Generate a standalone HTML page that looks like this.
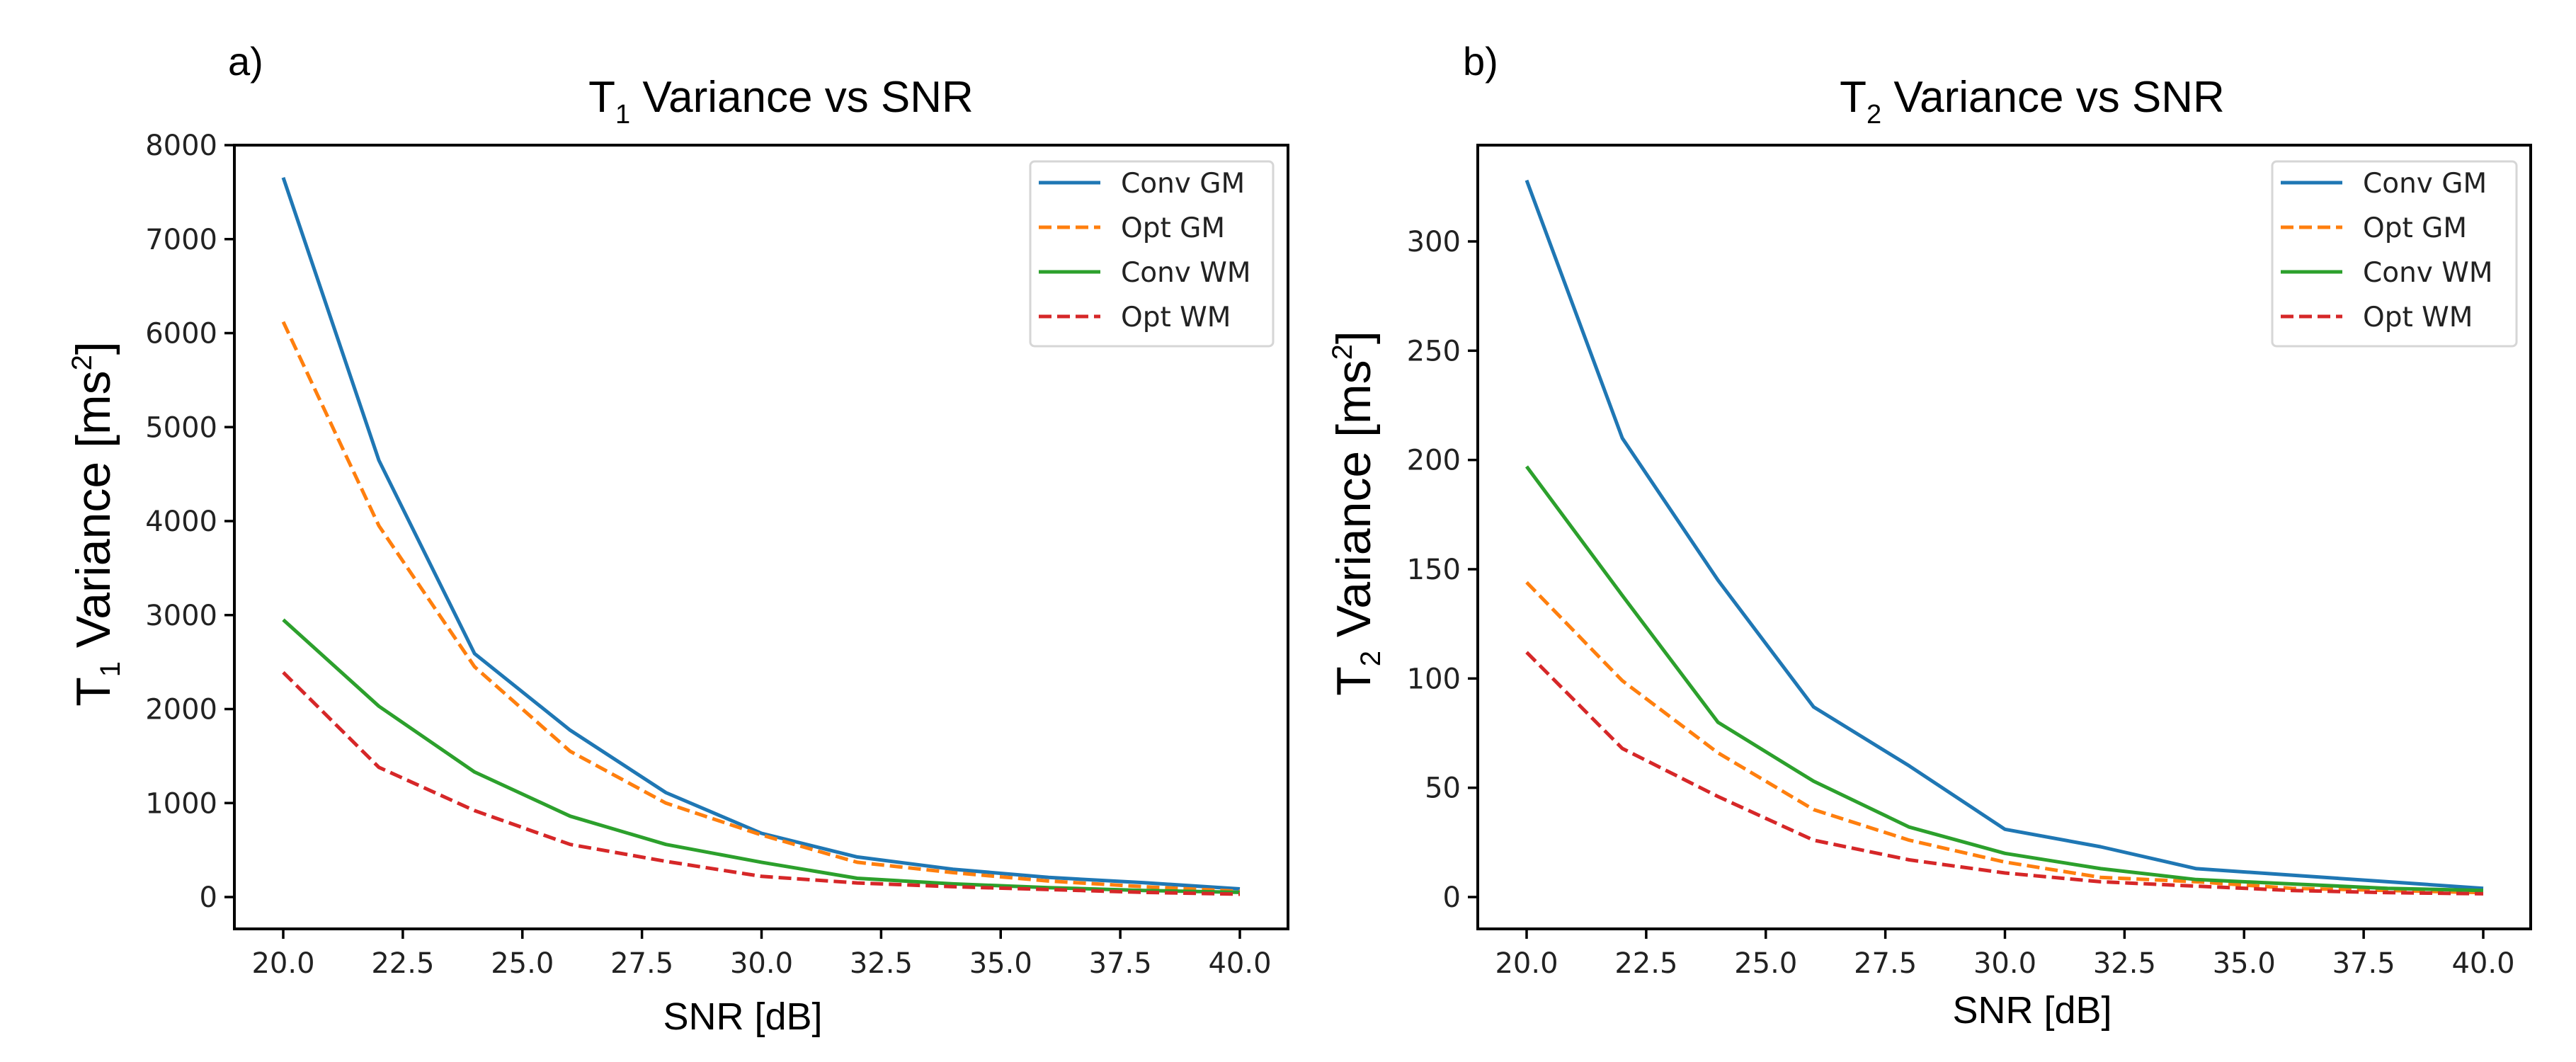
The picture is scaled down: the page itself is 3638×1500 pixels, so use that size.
<!DOCTYPE html>
<html><head><meta charset="utf-8">
<style>
html,body{margin:0;padding:0;background:#fff;}
svg{display:block;font-family:"Liberation Sans",sans-serif;}
</style></head>
<body>
<svg id="fig" width="3638" height="1500" viewBox="0 0 3638 1500" xmlns="http://www.w3.org/2000/svg">
<rect width="3638" height="1500" fill="#fff"/>
</svg>
<script>
const xValues = [20,22,24,26,28,30,32,34,36,38,40];
const xTicks = [20,22.5,25,27.5,30,32.5,35,37.5,40];
const seriesNames = ["Conv GM","Opt GM","Conv WM","Opt WM"];
const seriesColors = ["#1f77b4","#ff7f0e","#2ca02c","#d62728"];
const seriesDashed = [false,true,false,true];
const t1ConvGM = [7655,4646,2590,1775,1111,678,426,296,209,152,87];
const t1OptGM  = [6120,3950,2450,1550,1000,660,370,260,170,110,60];
const t1ConvWM = [2950,2030,1330,860,560,370,200,140,100,70,50];
const t1OptWM  = [2390,1380,920,560,380,220,150,110,80,50,30];
const t2ConvGM = [328,210,145,87,60,31,23,13,10,7,4];
const t2OptGM  = [144,99,66,40,26,16,9,7,4,3,2];
const t2ConvWM = [197,138,80,53,32,20,13,8,6,4,3];
const t2OptWM  = [112,68,46,26,17,11,7,5,3,2,1.5];
const t1Ticks = [0,1000,2000,3000,4000,5000,6000,7000,8000];
const t2Ticks = [0,50,100,150,200,250,300];

const NS="http://www.w3.org/2000/svg";
const svg=document.getElementById('fig');
const TF='"DejaVu Sans", sans-serif';
function mk(tag,attrs,parent){const e=document.createElementNS(NS,tag);for(const k in attrs)e.setAttribute(k,attrs[k]);(parent||svg).appendChild(e);return e;}

function panel(cfg){
  const g=mk('g',{});
  
  
  const {L,R,T,B,x0px,x1px,y0px,yPer}=cfg;
  const X=v=>x0px+(v-20)/20*(x1px-x0px);
  const Y=v=>y0px-v*yPer;
  cfg.yTicks.forEach(t=>{
    const y=Y(t); if(y<T-1) return;
    const ln=mk('line',{x1:L-14,x2:L,y1:y,y2:y,stroke:'#000','stroke-width':3.5},g);
    
    
    const tx=mk('text',{x:L-24,y:y+14,'text-anchor':'end','font-size':40,fill:'#222','font-family':TF},g);
    
    
    tx.textContent=String(t);
  });
  xTicks.forEach(t=>{
    const x=X(t);
    const ln=mk('line',{x1:x,x2:x,y1:B,y2:B+14,stroke:'#000','stroke-width':3.5},g);
    
    
    const tx=mk('text',{x:x,y:B+62,'text-anchor':'middle','font-size':40,fill:'#222','font-family':TF},g);
    
    
    tx.textContent=t.toFixed(1);
  });
  const clip='clip'+cfg.name;
  const cp=mk('clipPath',{id:clip},g);mk('rect',{x:L,y:T,width:R-L,height:B-T},cp);
  cfg.series.forEach((arr,i)=>{
    const d=arr.map((v,j)=>(j?'L':'M')+X(xValues[j]).toFixed(1)+','+Y(v).toFixed(1)).join(' ');
    const p=mk('path',{d:d,fill:'none',stroke:seriesColors[i],'stroke-width':5,'stroke-linejoin':'round','clip-path':'url(#'+clip+')'},g);
    if(seriesDashed[i]) p.setAttribute('stroke-dasharray','18,8');
    
    
  });
  const fr=mk('rect',{x:L,y:T,width:R-L,height:B-T,fill:'none',stroke:'#000','stroke-width':4},g);
  
  
  const lg=mk('g',{},g);
  
  
  mk('rect',{x:cfg.legX,y:228,width:cfg.legW,height:261,rx:6,fill:'#fff',stroke:'#d6d6d6','stroke-width':3},lg);
  seriesNames.forEach((n,i)=>{
    const y=258+i*63;
    const en=mk('g',{},lg);
    
    
    const l=mk('line',{x1:cfg.legX+12,x2:cfg.legX+99,y1:y,y2:y,stroke:seriesColors[i],'stroke-width':5},en);
    if(seriesDashed[i]) l.setAttribute('stroke-dasharray','18,8');
    const t=mk('text',{x:cfg.legX+128,y:y+14,'font-size':39,fill:'#222','font-family':TF},en);
    t.textContent=n;
  });
}

panel({name:'t1-panel',L:331,R:1819,T:205,B:1312,x0px:400,x1px:1751,y0px:1267,yPer:(1267-205)/8000,yTicks:t1Ticks,
  series:[t1ConvGM,t1OptGM,t1ConvWM,t1OptWM],legX:1455,legW:343});
panel({name:'t2-panel',L:2087,R:3574,T:205,B:1312,x0px:2156,x1px:3507,y0px:1267,yPer:(1267-341)/300,yTicks:t2Ticks,
  series:[t2ConvGM,t2OptGM,t2ConvWM,t2OptWM],legX:3209,legW:345});
</script>
<svg style="position:absolute;left:0;top:0" width="3638" height="1500" xmlns="http://www.w3.org/2000/svg" font-family="Liberation Sans, sans-serif">
<text x="322" y="106" font-size="56" fill="#000">a)</text>
<text x="2066" y="106" font-size="56" fill="#000">b)</text>
<text x="1103" y="158" text-anchor="middle" font-size="62" fill="#000">T<tspan font-size="38" dy="16">1</tspan><tspan dy="-16"> Variance vs SNR</tspan></text>
<text x="2870" y="158" text-anchor="middle" font-size="62" fill="#000">T<tspan font-size="38" dy="16">2</tspan><tspan dy="-16"> Variance vs SNR</tspan></text>
<text transform="translate(155,740) rotate(-90)" text-anchor="middle" font-size="68" fill="#000">T<tspan font-size="40" dy="14">1</tspan><tspan dy="-14"> Variance [ms</tspan><tspan font-size="40" dy="-26">2</tspan><tspan dy="26">]</tspan></text>
<text transform="translate(1935,725) rotate(-90)" text-anchor="middle" font-size="68" fill="#000">T<tspan font-size="40" dy="14">2</tspan><tspan dy="-14"> Variance [ms</tspan><tspan font-size="40" dy="-26">2</tspan><tspan dy="26">]</tspan></text>
<text x="1049" y="1454" text-anchor="middle" font-size="54" fill="#000">SNR [dB]</text>
<text x="2870" y="1445" text-anchor="middle" font-size="54" fill="#000">SNR [dB]</text>
</svg>
</body></html>
